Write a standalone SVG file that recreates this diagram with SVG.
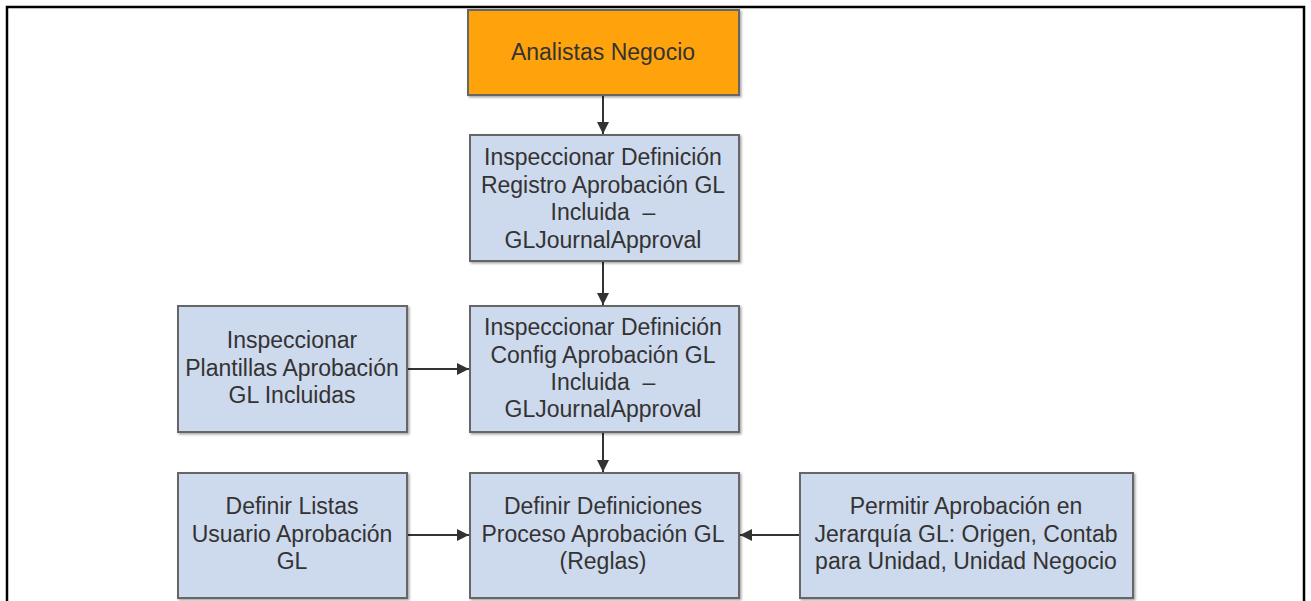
<svg xmlns="http://www.w3.org/2000/svg" width="1311" height="601" viewBox="0 0 1311 601">
<defs>
<marker id="ah" viewBox="0 0 12 12" refX="12" refY="6" markerWidth="12" markerHeight="12" markerUnits="userSpaceOnUse" orient="auto">
<path d="M0,0 L12,6 L0,12 z" fill="#333"/>
</marker>
<filter id="sh" x="-5%" y="-5%" width="110%" height="110%">
<feDropShadow dx="1.5" dy="1.5" stdDeviation="1" flood-color="#000" flood-opacity="0.35"/>
</filter>
</defs>
<style>
.box{fill:#cdd9ec;stroke:#666;stroke-width:2;filter:url(#sh)}
.org{fill:#ffa30f;stroke:#666;stroke-width:2;filter:url(#sh)}
text{font-family:"Liberation Sans",Arial,sans-serif;font-size:23px;fill:#333;text-anchor:middle}
.con{stroke:#333;stroke-width:2;fill:none;marker-end:url(#ah)}
</style>
<rect width="1311" height="601" fill="#fff"/>
<path d="M7,601 V7 H1304 V601" fill="none" stroke="#000" stroke-width="2.5"/>
<g id="connectors">
<line class="con" x1="603" y1="96" x2="603" y2="134"/>
<line class="con" x1="603" y1="262" x2="603" y2="305"/>
<line class="con" x1="603" y1="433" x2="603" y2="472"/>
<line class="con" x1="408" y1="369" x2="469" y2="369"/>
<line class="con" x1="408" y1="535" x2="469" y2="535"/>
<line class="con" x1="800" y1="535" x2="740" y2="535"/>
</g>
<g id="n1">
<rect class="org" x="468" y="10" width="271" height="85"/>
<text x="603" y="60">Analistas Negocio</text>
</g>
<g id="n2">
<rect class="box" x="470" y="135" width="269" height="126"/>
<text x="603" y="165">Inspeccionar Definición</text>
<text x="603" y="193">Registro Aprobación GL</text>
<text x="603" y="220">Incluida&#160; –</text>
<text x="603" y="248">GLJournalApproval</text>
</g>
<g id="n3">
<rect class="box" x="178" y="306" width="229" height="126"/>
<text x="292" y="348">Inspeccionar</text>
<text x="292" y="376">Plantillas Aprobación</text>
<text x="292" y="403">GL Incluidas</text>
</g>
<g id="n4">
<rect class="box" x="470" y="306" width="269" height="126"/>
<text x="603" y="335">Inspeccionar Definición</text>
<text x="603" y="363">Config Aprobación GL</text>
<text x="603" y="390">Incluida&#160; –</text>
<text x="603" y="417">GLJournalApproval</text>
</g>
<g id="n5">
<rect class="box" x="178" y="473" width="229" height="125"/>
<text x="292" y="514">Definir Listas</text>
<text x="292" y="542">Usuario Aprobación</text>
<text x="292" y="569">GL</text>
</g>
<g id="n6">
<rect class="box" x="470" y="473" width="269" height="125"/>
<text x="603" y="514">Definir Definiciones</text>
<text x="603" y="542">Proceso Aprobación GL</text>
<text x="603" y="569">(Reglas)</text>
</g>
<g id="n7">
<rect class="box" x="800" y="473" width="333" height="125"/>
<text x="966" y="514">Permitir Aprobación en</text>
<text x="966" y="542">Jerarquía GL: Origen, Contab</text>
<text x="966" y="569">para Unidad, Unidad Negocio</text>
</g>
</svg>
